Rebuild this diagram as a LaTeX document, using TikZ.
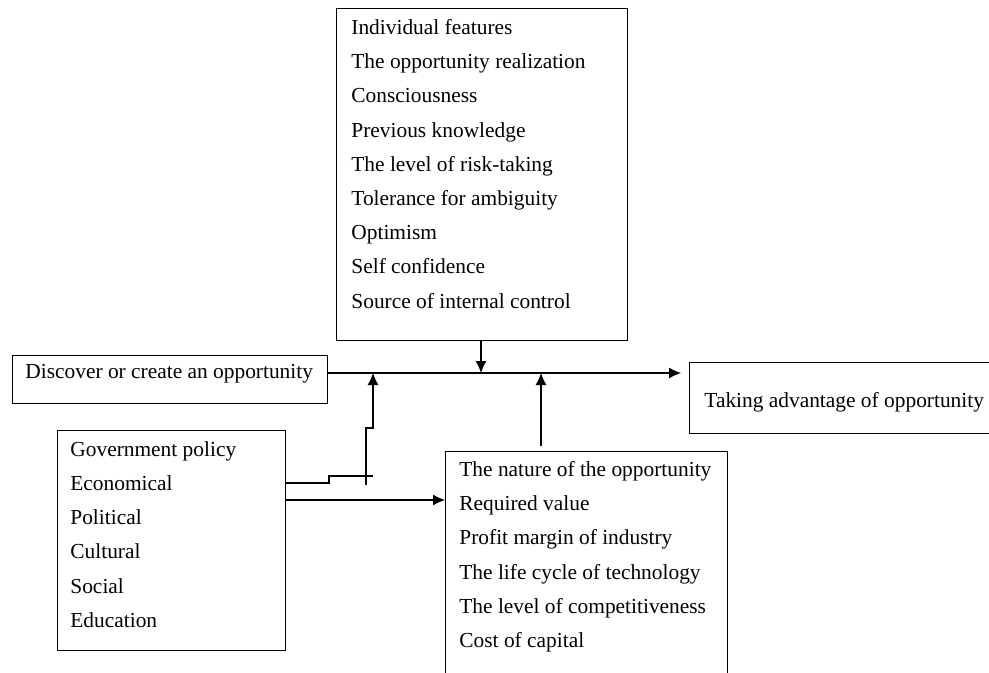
\documentclass[tikz,border=0pt]{standalone}
\usepackage{fontspec}
\setmainfont{Liberation Serif}
\usetikzlibrary{arrows.meta}
\usetikzlibrary{positioning}
\tikzset{box/.style={draw, line width=0.6pt, rectangle, anchor=north west, inner sep=0pt},
         list/.style={anchor=north west, align=left, inner sep=0pt,
           font=\fontsize{10.7}{17.1}\selectfont},
         link/.style={line width=0.6pt, -{Latex[length=6pt,width=5.5pt]}}}

\begin{document}
\begin{tikzpicture}[x=0.5pt,y=-0.5pt]
\useasboundingbox (0,0) rectangle (989,673);

% boxes
\node[box, minimum width=145.5pt, minimum height=166pt] (feat) at (336,8) {};
\node[box, minimum width=157.5pt, minimum height=24pt] (disc) at (12,355) {};
\node[box, minimum width=153pt, minimum height=35.5pt] (take) at (689,362) {};
\node[box, minimum width=114pt, minimum height=110pt] (env) at (57,430) {};
\node[box, minimum width=141pt, minimum height=120pt] (nat) at (445,451) {};

% texts
\node[list, below right=5.5pt and 7.5pt of feat.north west] (featlist) {Individual features\\
  The opportunity realization\\ Consciousness\\ Previous knowledge\\
  The level of risk-taking\\ Tolerance for ambiguity\\ Optimism\\
  Self confidence\\ Source of internal control};
\node[list, below right=4.5pt and 6.5pt of disc.north west] (disctext) {Discover or create an opportunity};
\node[list, below right=15pt and 7.5pt of take.north west] (taketext) {Taking advantage of opportunity};
\node[list, below right=5.5pt and 6.5pt of env.north west] (envlist) {Government policy\\
  Economical\\ Political\\ Cultural\\ Social\\ Education};
\node[list, below right=5pt and 7pt of nat.north west] (natlist) {The nature of the opportunity\\
  Required value\\ Profit margin of industry\\ The life cycle of technology\\
  The level of competitiveness\\ Cost of capital};

% junctions
\coordinate (mid) at (481,373);
\coordinate (j1) at (373,373);
\coordinate (j2) at (541,373);
\coordinate (e1) at (0,483);
\coordinate (e2) at (0,500);

% connectors
\draw[link] (disc.east |- mid) -- ([xshift=-4pt]take.west |- mid);
\draw[link] (feat.south -| mid) -- (mid);
\draw[link] ([yshift=2.5pt]nat.north -| j2) -- (j2);
\draw[line width=0.6pt] (env.east |- e1) -- (329,483) -- (329,476) -- (373,476);
\draw[link] (366,485) -- (366,428) -- (373,428) -- (j1);
\draw[link] (env.east |- e2) -- (nat.west |- e2);
\end{tikzpicture}
\end{document}
